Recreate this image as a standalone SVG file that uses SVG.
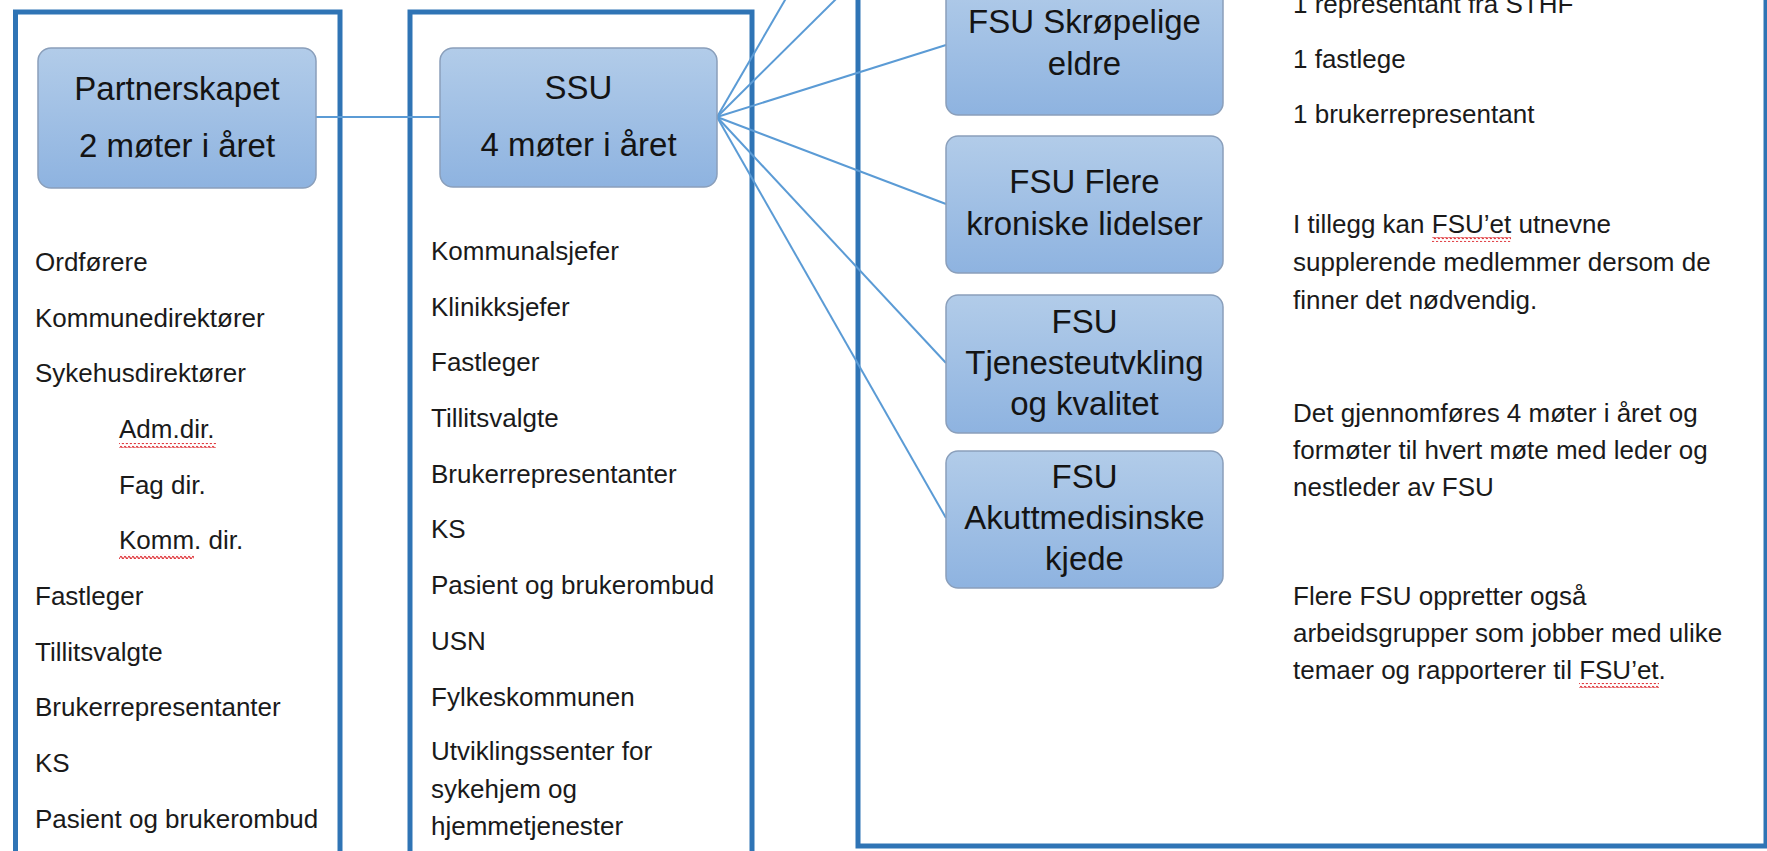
<svg xmlns="http://www.w3.org/2000/svg" width="1767" height="851" viewBox="0 0 1767 851">
<style>
.frame{fill:none;stroke:#2f74b5;stroke-width:5}
.node{stroke:#8a9fbb;stroke-width:1.5}
.nt{font-family:"Liberation Sans",Arial,sans-serif;font-size:33px;fill:#141414;text-anchor:middle}
.lt{font-family:"Liberation Sans",Arial,sans-serif;font-size:26px;fill:#1a1a1a}
.conn{stroke:#5b9bd5;stroke-width:2;fill:none}
</style>
<defs>
<linearGradient id="boxfill" x1="0" y1="0" x2="0" y2="1">
<stop offset="0" stop-color="#b2cce9"/>
<stop offset="1" stop-color="#8eb3e0"/>
</linearGradient>
<pattern id="wave" patternUnits="userSpaceOnUse" width="4" height="5">
<path d="M0 2.5 Q1 0.3 2 2.5 T4 2.5" fill="none" stroke="#e0393e" stroke-width="1.4"/>
</pattern>
</defs>
<rect width="1767" height="851" fill="#ffffff"/>

<g id="frames">
<rect class="frame" x="15.5" y="12" width="324.5" height="900"/>
<rect class="frame" x="410" y="12" width="342" height="900"/>
<rect class="frame" x="858" y="-60" width="908" height="906"/>
</g>

<g id="connectors">
<line class="conn" x1="316" y1="117" x2="440" y2="117"/>
<line class="conn" x1="717" y1="117" x2="878" y2="-160"/>
<line class="conn" x1="717" y1="117" x2="946" y2="-110"/>
<line class="conn" x1="717" y1="117" x2="946" y2="45"/>
<line class="conn" x1="717" y1="117" x2="946" y2="204"/>
<line class="conn" x1="717" y1="117" x2="946" y2="363"/>
<line class="conn" x1="717" y1="117" x2="946" y2="518"/>
</g>

<g id="partnerskapet">
<rect class="node" x="38" y="48" width="278" height="140" rx="13" fill="url(#boxfill)"/>
<text class="nt" x="177" y="100">Partnerskapet</text>
<text class="nt" x="177" y="157">2 møter i året</text>
</g>

<g id="ssu">
<rect class="node" x="440" y="48" width="277" height="139" rx="13" fill="url(#boxfill)"/>
<text class="nt" x="578.5" y="99">SSU</text>
<text class="nt" x="578.5" y="156">4 møter i året</text>
</g>

<g id="fsu-skropelige">
<rect class="node" x="946" y="-22" width="277" height="137" rx="12" fill="url(#boxfill)"/>
<text class="nt" x="1084.5" y="33">FSU Skrøpelige</text>
<text class="nt" x="1084.5" y="75">eldre</text>
</g>

<g id="fsu-flere">
<rect class="node" x="946" y="136" width="277" height="137" rx="12" fill="url(#boxfill)"/>
<text class="nt" x="1084.5" y="193">FSU Flere</text>
<text class="nt" x="1084.5" y="235">kroniske lidelser</text>
</g>

<g id="fsu-tjeneste">
<rect class="node" x="946" y="295" width="277" height="138" rx="12" fill="url(#boxfill)"/>
<text class="nt" x="1084.5" y="333">FSU</text>
<text class="nt" x="1084.5" y="374">Tjenesteutvkling</text>
<text class="nt" x="1084.5" y="415">og kvalitet</text>
</g>

<g id="fsu-akutt">
<rect class="node" x="946" y="451" width="277" height="137" rx="12" fill="url(#boxfill)"/>
<text class="nt" x="1084.5" y="488">FSU</text>
<text class="nt" x="1084.5" y="529">Akuttmedisinske</text>
<text class="nt" x="1084.5" y="570">kjede</text>
</g>

<g id="partnerskapet-members">
<text class="lt" x="35" y="271">Ordførere</text>
<text class="lt" x="35" y="327">Kommunedirektører</text>
<text class="lt" x="35" y="382">Sykehusdirektører</text>
<text class="lt" x="119" y="438">Adm.dir.</text>
<text class="lt" x="119" y="494">Fag dir.</text>
<text class="lt" x="119" y="549">Komm. dir.</text>
<text class="lt" x="35" y="605">Fastleger</text>
<text class="lt" x="35" y="661">Tillitsvalgte</text>
<text class="lt" x="35" y="716">Brukerrepresentanter</text>
<text class="lt" x="35" y="772">KS</text>
<text class="lt" x="35" y="828">Pasient og brukerombud</text>
<rect x="119" y="443" width="97" height="5" fill="url(#wave)"/>
<rect x="119" y="554" width="75" height="5" fill="url(#wave)"/>
</g>

<g id="ssu-members">
<text class="lt" x="431" y="260">Kommunalsjefer</text>
<text class="lt" x="431" y="315.5">Klinikksjefer</text>
<text class="lt" x="431" y="371">Fastleger</text>
<text class="lt" x="431" y="427">Tillitsvalgte</text>
<text class="lt" x="431" y="482.5">Brukerrepresentanter</text>
<text class="lt" x="431" y="538">KS</text>
<text class="lt" x="431" y="594">Pasient og brukerombud</text>
<text class="lt" x="431" y="650">USN</text>
<text class="lt" x="431" y="705.5">Fylkeskommunen</text>
<text class="lt" x="431" y="759.5">Utviklingssenter for</text>
<text class="lt" x="431" y="797.5">sykehjem og</text>
<text class="lt" x="431" y="835">hjemmetjenester</text>
</g>

<g id="fsu-info">
<text class="lt" x="1293" y="13">1 representant fra STHF</text>
<text class="lt" x="1293" y="68">1 fastlege</text>
<text class="lt" x="1293" y="123">1 brukerrepresentant</text>
<text class="lt" x="1293" y="233">I tillegg kan FSU’et utnevne</text>
<text class="lt" x="1293" y="271">supplerende medlemmer dersom de</text>
<text class="lt" x="1293" y="309">finner det nødvendig.</text>
<text class="lt" x="1293" y="422">Det gjennomføres 4 møter i året og</text>
<text class="lt" x="1293" y="459">formøter til hvert møte med leder og</text>
<text class="lt" x="1293" y="496">nestleder av FSU</text>
<text class="lt" x="1293" y="605">Flere FSU oppretter også</text>
<text class="lt" x="1293" y="642">arbeidsgrupper som jobber med ulike</text>
<text class="lt" x="1293" y="679">temaer og rapporterer til FSU’et.</text>
<rect x="1432" y="237" width="79" height="5" fill="url(#wave)"/>
<rect x="1579" y="683" width="80" height="5" fill="url(#wave)"/>
</g>
</svg>
